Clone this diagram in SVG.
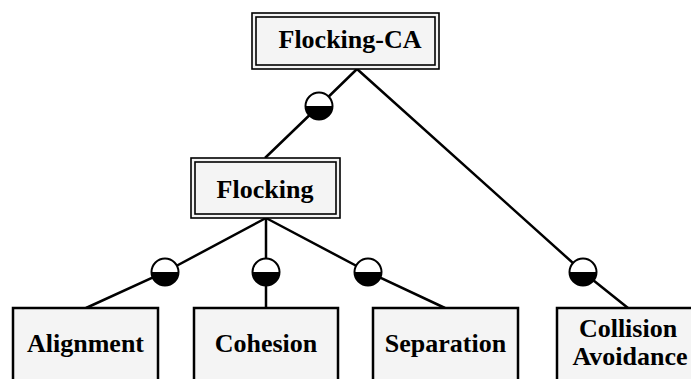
<svg xmlns="http://www.w3.org/2000/svg" width="691" height="379" viewBox="0 0 691 379">
  <defs>
    <style>
      .box { fill: #f4f4f4; stroke: #000; stroke-width: 2.5; }
      .outer { fill: #f4f4f4; stroke: #000; stroke-width: 1.6; }
      .inner { fill: none; stroke: #000; stroke-width: 1.6; }
      .edge { fill: none; stroke: #000; stroke-width: 2.5; }
      .label { font-family: 'Liberation Serif', serif; font-weight: bold; font-size: 26px; text-anchor: middle; fill: #000; }
    </style>
    <!-- optional-feature marker: white upper half, black lower half -->
    <g id="opt">
      <path d="M -13.5 0 A 13.5 13.5 0 0 0 13.5 0 Z" fill="#000"/>
      <path d="M -13.5 0 A 13.5 13.5 0 0 1 13.5 0 Z" fill="#fff"/>
      <circle r="13.5" fill="none" stroke="#000" stroke-width="2"/>
    </g>
  </defs>
  <rect width="691" height="379" fill="#fff"/>

  <g id="connectors">
    <polyline class="edge" points="265,158 319,106 357,69"/>
    <polyline class="edge" points="357,69 583,272 628,308"/>
    <polyline class="edge" points="266,218 165,272 86,308"/>
    <polyline class="edge" points="266,218 266,308"/>
    <polyline class="edge" points="266,218 368,272 445,308"/>
    <use href="#opt" x="319" y="106"/>
    <use href="#opt" x="165" y="272"/>
    <use href="#opt" x="266" y="272"/>
    <use href="#opt" x="368" y="272"/>
    <use href="#opt" x="583" y="272"/>
  </g>

  <g id="flocking-ca">
    <rect class="outer" x="252" y="13" width="187" height="56"/>
    <rect class="inner" x="256" y="17" width="179" height="48"/>
    <text class="label" x="350" y="48" font-family="Liberation Serif, serif">Flocking-CA</text>
  </g>

  <g id="flocking">
    <rect class="outer" x="191" y="158" width="149" height="60"/>
    <rect class="inner" x="195" y="162" width="141" height="52"/>
    <text class="label" x="265" y="198" font-family="Liberation Serif, serif">Flocking</text>
  </g>

  <g id="alignment">
    <rect class="box" x="13" y="308" width="145" height="90"/>
    <text class="label" x="85.5" y="352" font-family="Liberation Serif, serif">Alignment</text>
  </g>

  <g id="cohesion">
    <rect class="box" x="194" y="308" width="144" height="90"/>
    <text class="label" x="266" y="352" font-family="Liberation Serif, serif">Cohesion</text>
  </g>

  <g id="separation">
    <rect class="box" x="373" y="308" width="145" height="90"/>
    <text class="label" x="445.5" y="352" font-family="Liberation Serif, serif">Separation</text>
  </g>

  <g id="collision-avoidance">
    <rect class="box" x="557" y="308" width="142" height="90"/>
    <text class="label" x="628" y="337" font-family="Liberation Serif, serif">Collision</text>
    <text class="label" x="630" y="365" font-family="Liberation Serif, serif">Avoidance</text>
  </g>
</svg>
